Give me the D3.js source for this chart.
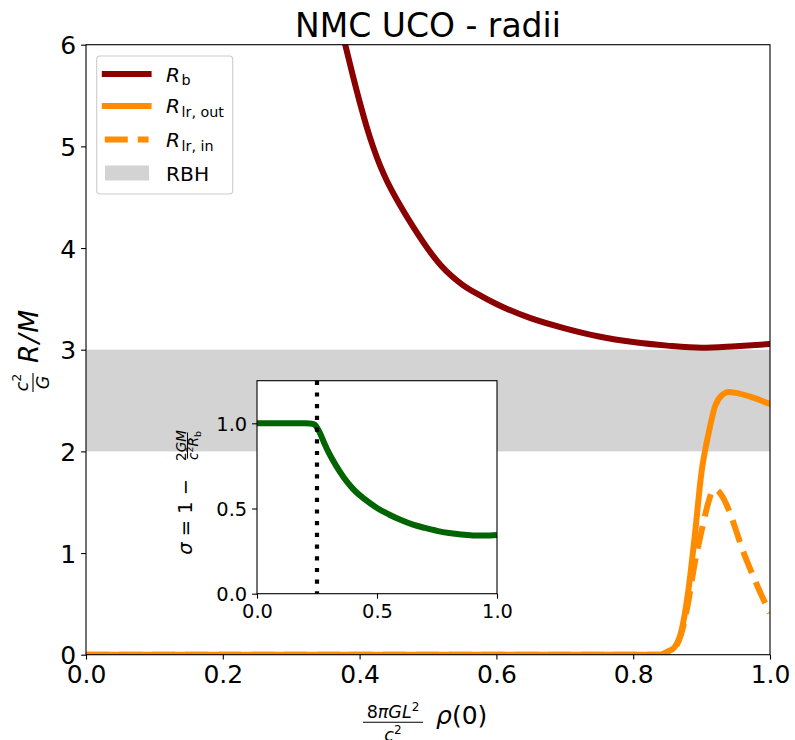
<!DOCTYPE html>
<html><head><meta charset="utf-8">
<script src="https://cdn.jsdelivr.net/npm/d3@7"></script>
<style>body{margin:0;background:#fff}svg{display:block}text{font-family:"DejaVu Sans",sans-serif}</style>
</head><body><svg id="c" width="795" height="740"></svg>
<script>
// ---------- data ----------
const xTicks = [0.0, 0.2, 0.4, 0.6, 0.8, 1.0];
const yTicks = [0, 1, 2, 3, 4, 5, 6];
const insetTicks = [0.0, 0.5, 1.0];
const rbhBand = [2, 3];

const rhoRb = [0.365, 0.379, 0.39, 0.40, 0.41, 0.42, 0.43, 0.44, 0.45, 0.46, 0.48, 0.50, 0.52, 0.55, 0.58, 0.60, 0.65, 0.70, 0.75, 0.80, 0.85, 0.90, 0.95, 1.0];
const Rb    = [6.40, 6.0, 5.70, 5.44, 5.20, 4.99, 4.81, 4.66, 4.53, 4.41, 4.19, 3.99, 3.82, 3.64, 3.52, 3.45, 3.31, 3.21, 3.13, 3.075, 3.04, 3.02, 3.035, 3.055];

const rhoOut = [0.0, 0.5, 0.84, 0.85, 0.86, 0.87, 0.88, 0.89, 0.90, 0.91, 0.92, 0.93, 0.94, 0.95, 0.97, 1.0];
const Rout   = [0, 0, 0, 0.03, 0.07, 0.22, 0.6, 1.17, 1.80, 2.17, 2.45, 2.555, 2.585, 2.575, 2.54, 2.465];

const rhoIn = [0.0, 0.5, 0.84, 0.85, 0.86, 0.87, 0.88, 0.89, 0.90, 0.91, 0.915, 0.92, 0.93, 0.94, 0.95, 0.96, 0.97, 0.98, 0.99, 1.0];
const Rin   = [0, 0, 0, 0.02, 0.06, 0.2, 0.5, 0.9, 1.22, 1.5, 1.6, 1.625, 1.56, 1.42, 1.23, 1.03, 0.86, 0.70, 0.55, 0.41];

const insetX     = [0, 0.1, 0.2, 0.22, 0.24, 0.25, 0.26, 0.28, 0.30, 0.33, 0.36, 0.40, 0.45, 0.50, 0.55, 0.60, 0.65, 0.70, 0.75, 0.80, 0.85, 0.90, 0.95, 1.0];
const insetSigma = [1, 1, 1, 0.999, 0.993, 0.975, 0.95, 0.885, 0.825, 0.75, 0.685, 0.615, 0.553, 0.503, 0.465, 0.432, 0.405, 0.386, 0.369, 0.356, 0.347, 0.342, 0.341, 0.344];
const insetVLine = 0.25;

// ---------- layout ----------
const svg = d3.select("#c");
const M = {l: 86, r: 770, t: 44.7, b: 654.7};
const I = {l: 257, r: 497, t: 380.7, b: 593.7};
const x = d3.scaleLinear().domain([0, 1]).range([M.l, M.r]);
const y = d3.scaleLinear().domain([0, 6]).range([M.b, M.t]);
const xi = d3.scaleLinear().domain([0, 1]).range([I.l, I.r]);
const yi = d3.scaleLinear().domain([0, 1.25]).range([I.b, I.t]);

const C = {rb: "#8b0000", lr: "#ff8c00", band: "#d3d3d3", green: "#006400"};
const LW = 6;
const DASH = "23,10";

svg.append("defs").append("clipPath").attr("id", "mclip")
  .append("rect").attr("x", M.l).attr("y", M.t).attr("width", M.r - M.l).attr("height", M.b - M.t);

// band
svg.append("rect").attr("x", x(0)).attr("width", x(1) - x(0))
  .attr("y", y(rbhBand[1])).attr("height", y(rbhBand[0]) - y(rbhBand[1]))
  .attr("fill", C.band);

const lineM = d3.line().x(d => x(d[0])).y(d => y(d[1])).curve(d3.curveMonotoneX);
const gl = svg.append("g").attr("clip-path", "url(#mclip)");
gl.append("path").attr("d", lineM(d3.zip(rhoRb, Rb))).attr("fill", "none")
  .attr("stroke", C.rb).attr("stroke-width", LW).attr("stroke-linejoin", "round").attr("stroke-linecap", "square");
gl.append("path").attr("d", lineM(d3.zip(rhoIn, Rin))).attr("fill", "none")
  .attr("stroke", C.lr).attr("stroke-width", LW).attr("stroke-dasharray", DASH).attr("stroke-linejoin", "round");
gl.append("path").attr("d", lineM(d3.zip(rhoOut, Rout))).attr("fill", "none")
  .attr("stroke", C.lr).attr("stroke-width", LW).attr("stroke-linejoin", "round").attr("stroke-linecap", "square");

// main axes
const ax = svg.append("g").attr("transform", `translate(0,${M.b})`)
  .call(d3.axisBottom(x).tickValues(xTicks).tickFormat(d3.format(".1f")).tickSize(4.9).tickPadding(4.9).tickSizeOuter(0));
const ay = svg.append("g").attr("transform", `translate(${M.l},0)`)
  .call(d3.axisLeft(y).tickValues(yTicks).tickFormat(d3.format("d")).tickSize(4.9).tickPadding(4.9).tickSizeOuter(0));
[ax, ay].forEach(g => {
  g.select(".domain").remove();
  g.selectAll("line").attr("stroke", "#000").attr("stroke-width", 1.1);
  g.selectAll("text").attr("font-size", 25).attr("fill", "#000").attr("font-family", "DejaVu Sans");
});
ax.selectAll("text").attr("dy", "0.74em");
ay.selectAll("text").attr("dy", "0.36em");
svg.append("rect").attr("x", M.l).attr("y", M.t).attr("width", M.r - M.l).attr("height", M.b - M.t)
  .attr("fill", "none").attr("stroke", "#000").attr("stroke-width", 1.1);

// title
svg.append("text").attr("x", (M.l + M.r) / 2).attr("y", 36.5).attr("text-anchor", "middle")
  .attr("font-size", 33).text("NMC UCO - radii");

// x label
svg.append("text").attr("x", 393).attr("y", 718).attr("text-anchor", "middle").attr("font-size", 17.5)
  .html('<tspan>8</tspan><tspan font-style="italic">πGL</tspan><tspan font-size="12" dy="-7">2</tspan>');
svg.append("line").attr("x1", 363).attr("x2", 423).attr("y1", 722.3).attr("y2", 722.3).attr("stroke", "#000").attr("stroke-width", 1.1);
svg.append("text").attr("x", 393).attr("y", 741).attr("text-anchor", "middle").attr("font-size", 17.5)
  .html('<tspan font-style="italic">c</tspan><tspan font-size="12" dy="-7">2</tspan>');
svg.append("text").attr("x", 436).attr("y", 724).attr("font-size", 25)
  .html('<tspan font-style="italic">ρ</tspan><tspan>(0)</tspan>');

// y label (rotated)
const ylab = svg.append("g");
ylab.append("text").attr("transform", "translate(38,336.5) rotate(-90)").attr("text-anchor", "middle")
  .attr("font-size", 26.5).attr("font-style", "italic")
  .html('<tspan>R</tspan><tspan dx="1.5">/</tspan><tspan dx="1.5">M</tspan>');
ylab.append("text").attr("transform", "translate(28,382.5) rotate(-90)").attr("text-anchor", "middle")
  .attr("font-size", 17.5).html('<tspan font-style="italic">c</tspan><tspan font-size="12" dy="-7">2</tspan>');
ylab.append("line").attr("x1", 33).attr("x2", 33).attr("y1", 373).attr("y2", 392).attr("stroke", "#000").attr("stroke-width", 1.1);
ylab.append("text").attr("transform", "translate(48.5,382.5) rotate(-90)").attr("text-anchor", "middle")
  .attr("font-size", 17.5).attr("font-style", "italic").text("G");

// legend
const lg = svg.append("g");
lg.append("rect").attr("x", 96.7).attr("y", 56).attr("width", 136).attr("height", 138).attr("rx", 3.5)
  .attr("fill", "#fff").attr("fill-opacity", 0.8).attr("stroke", "#cccccc").attr("stroke-width", 1.1);
const legItems = [
  {type: "line", color: C.rb, dash: null, ly: 74, ty: 81.7, main: "R", sub: "b"},
  {type: "line", color: C.lr, dash: null, ly: 106, ty: 113.3, main: "R", sub: "lr, out"},
  {type: "line", color: C.lr, dash: DASH, ly: 139.5, ty: 147.3, main: "R", sub: "lr, in"},
  {type: "patch", color: C.band, ly: 173, ty: 180.7, main: "RBH"}
];
legItems.forEach(d => {
  if (d.type === "line") {
    lg.append("line").attr("x1", 104.8).attr("x2", 148.6).attr("y1", d.ly).attr("y2", d.ly)
      .attr("stroke", d.color).attr("stroke-width", LW).attr("stroke-dasharray", d.dash)
      .attr("stroke-linecap", d.dash ? "butt" : "square");
  } else {
    lg.append("rect").attr("x", 105).attr("y", 165.5).attr("width", 44).attr("height", 15).attr("fill", d.color);
  }
  const t = lg.append("text").attr("x", 166).attr("y", d.ty).attr("font-size", 20.2);
  if (d.sub) {
    t.append("tspan").attr("font-style", "italic").text(d.main);
    t.append("tspan").attr("font-size", 14.3).attr("dy", 3.6).attr("dx", 1.5).text(d.sub);
  } else t.text(d.main);
});

// ---------- inset ----------
const ig = svg.append("g");
ig.append("rect").attr("x", I.l).attr("y", I.t).attr("width", I.r - I.l).attr("height", I.b - I.t).attr("fill", "#fff");
const lineI = d3.line().x(d => xi(d[0])).y(d => yi(d[1])).curve(d3.curveMonotoneX);
ig.append("path").attr("d", lineI(d3.zip(insetX, insetSigma))).attr("fill", "none")
  .attr("stroke", C.green).attr("stroke-width", LW).attr("stroke-linejoin", "round");
ig.append("line").attr("x1", xi(insetVLine)).attr("x2", xi(insetVLine)).attr("y1", yi(1.25)).attr("y2", yi(0))
  .attr("stroke", "#000").attr("stroke-width", 4.2).attr("stroke-dasharray", "4.2,7.5");
const iax = ig.append("g").attr("transform", `translate(0,${I.b})`)
  .call(d3.axisBottom(xi).tickValues(insetTicks).tickFormat(d3.format(".1f")).tickSize(4.9).tickPadding(4.9).tickSizeOuter(0));
const iay = ig.append("g").attr("transform", `translate(${I.l},0)`)
  .call(d3.axisLeft(yi).tickValues(insetTicks).tickFormat(d3.format(".1f")).tickSize(4.9).tickPadding(4.9).tickSizeOuter(0));
[iax, iay].forEach(g => {
  g.select(".domain").remove();
  g.selectAll("line").attr("stroke", "#000").attr("stroke-width", 1.1);
  g.selectAll("text").attr("font-size", 19.4).attr("fill", "#000").attr("font-family", "DejaVu Sans");
});
iax.selectAll("text").attr("dy", "0.74em");
iay.selectAll("text").attr("dy", "0.36em");
ig.append("rect").attr("x", I.l).attr("y", I.t).attr("width", I.r - I.l).attr("height", I.b - I.t)
  .attr("fill", "none").attr("stroke", "#000").attr("stroke-width", 1.1);

// inset y label
ig.append("text").attr("transform", "translate(192,479) rotate(-90)").attr("text-anchor", "end")
  .attr("font-size", 19.4).html('<tspan font-style="italic">σ</tspan><tspan> = 1 −</tspan>');
ig.append("text").attr("transform", "translate(185.5,445.5) rotate(-90)").attr("text-anchor", "middle")
  .attr("font-size", 13.6).html('<tspan>2</tspan><tspan font-style="italic">GM</tspan>');
ig.append("line").attr("x1", 187.5).attr("x2", 187.5).attr("y1", 432.5).attr("y2", 458.5).attr("stroke", "#000").attr("stroke-width", 1);
ig.append("text").attr("transform", "translate(198,445.5) rotate(-90)").attr("text-anchor", "middle")
  .attr("font-size", 13.6).html('<tspan font-style="italic">c</tspan><tspan font-size="9.5" dy="-5">2</tspan><tspan font-style="italic" dy="5">R</tspan><tspan font-size="9.5" dy="2.5">b</tspan>');
</script></body></html>
